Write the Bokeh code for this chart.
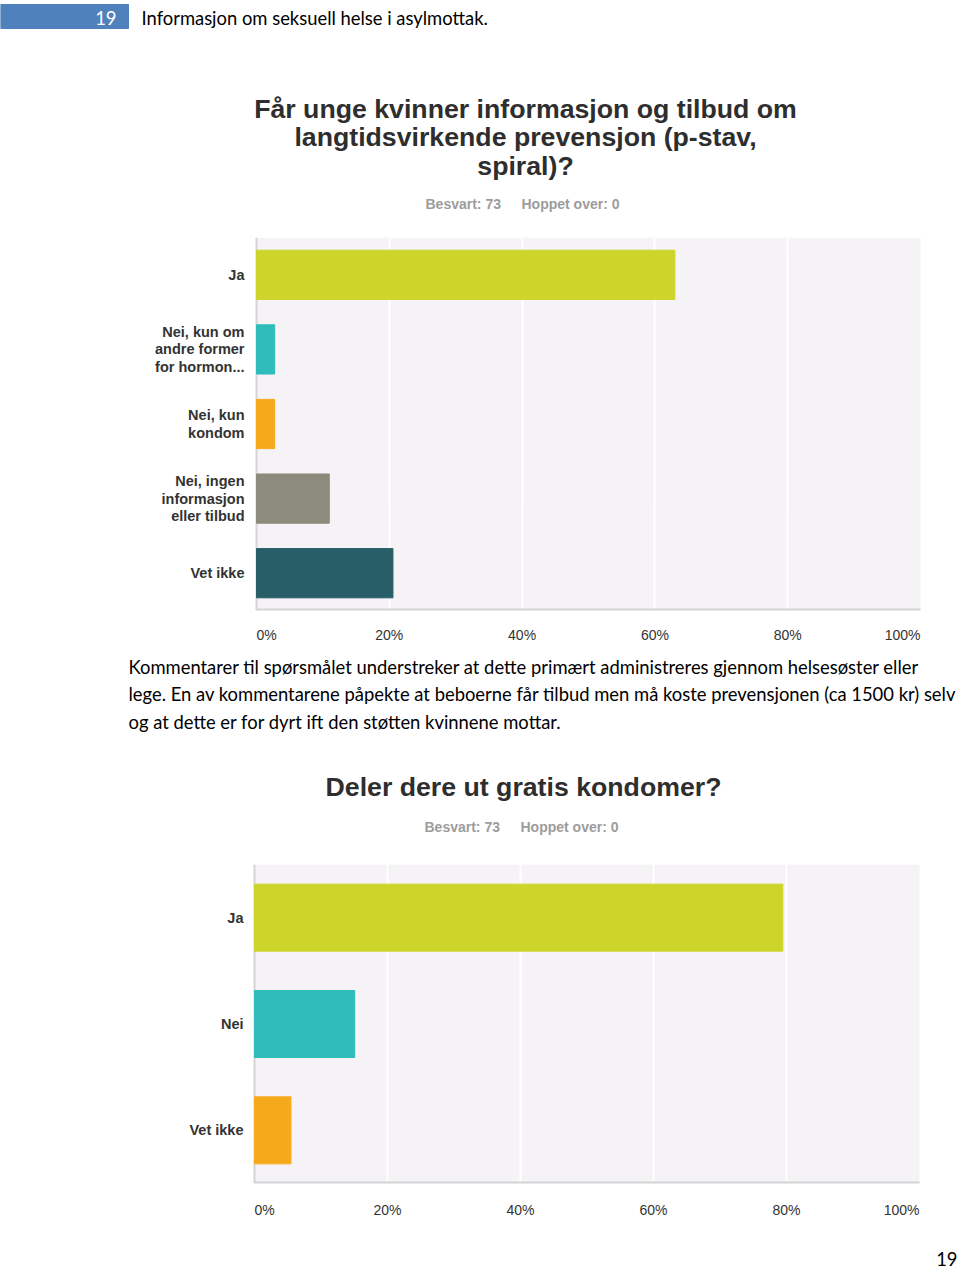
from bokeh.plotting import figure
from bokeh.layouts import column
from bokeh.models import (Range1d, FactorRange, FixedTicker, ColumnDataSource,
                          BoxAnnotation, Span, CustomJSTickFormatter)
from bokeh.core.properties import value
from bokeh.embed import file_html
from bokeh.resources import INLINE

W = 960

# ---------------- data ----------------
header_num = "19"
header_text = "Informasjon om seksuell helse i asylmottak."

title1_lines = ["Får unge kvinner informasjon og tilbud om",
                "langtidsvirkende prevensjon (p-stav,",
                "spiral)?"]
answered1 = "Besvart: 73"
skipped1 = "Hoppet over: 0"
cats1 = ["Ja",
         "Nei, kun om\nandre former\nfor hormon...",
         "Nei, kun\nkondom",
         "Nei, ingen\ninformasjon\neller tilbud",
         "Vet ikke"]
vals1 = [63.01, 2.74, 2.74, 10.96, 20.55]
colors1 = ["#cdd52b", "#2ebdba", "#f7a91c", "#8d8b7b", "#275e68"]

para_lines = ["Kommentarer til spørsmålet understreker at dette primært administreres gjennom helsesøster eller",
              "lege. En av kommentarene påpekte at beboerne får tilbud men må koste prevensjonen (ca 1500 kr) selv",
              "og at dette er for dyrt ift den støtten kvinnene mottar."]

title2 = "Deler dere ut gratis kondomer?"
answered2 = "Besvart: 73"
skipped2 = "Hoppet over: 0"
cats2 = ["Ja", "Nei", "Vet ikke"]
vals2 = [79.45, 15.07, 5.48]
colors2 = ["#cdd52b", "#2ebdba", "#f7a91c"]

tick_vals = [0, 20, 40, 60, 80, 100]
tick_labels = ["0%", "20%", "40%", "60%", "80%", "100%"]
page_num = "19"

ARIAL = "Liberation Sans"
BODY = "Lato"
TITLE_SIZE = "26.7px"
BODY_SIZE = "18.4px"
TICK_PX = 14.0
# approximate advance widths (em) of Liberation Sans regular, for tick-label alignment
ADV = {"%": 0.889}


def label_width(s, size):
    return sum(ADV.get(ch, 0.556) for ch in s) * size


def text_fig(h):
    p = figure(width=W, height=h, x_range=Range1d(0, W), y_range=Range1d(h, 0),
               output_backend="svg", toolbar_location=None, min_border=0,
               x_axis_location=None, y_axis_location=None)
    p.grid.visible = False
    p.outline_line_color = None
    p.background_fill_color = "white"
    p.border_fill_color = "white"
    return p


def txt(p, x, y, s, font, size, color, style="normal", align="left"):
    p.text(x=[x], y=[y], text=[s], text_font=value(font), text_font_size=size,
           text_font_style=style, text_color=color, text_align=align,
           text_baseline="middle")


def bar_fig(cats, vals, colors, h, frame_h, x0_px, x100_px, bar_h, label_dy, label_gap):
    ppu = (x100_px - x0_px) / 100.0
    xr = Range1d(-x0_px / ppu, (W - x0_px) / ppu)
    p = figure(width=W, height=h, x_range=xr, y_range=FactorRange(*reversed(cats)),
               output_backend="svg", toolbar_location=None,
               min_border_left=0, min_border_right=0, min_border_top=0,
               min_border_bottom=h - frame_h, y_axis_location=None)
    p.outline_line_color = None
    p.background_fill_color = "white"
    p.border_fill_color = "white"
    # plot-area background and axis lines
    p.add_layout(BoxAnnotation(left=tick_vals[0], right=tick_vals[-1], fill_color="#f5f3f6",
                               fill_alpha=1.0, line_color=None, level="image"))
    p.add_layout(Span(location=tick_vals[0], dimension="height", line_color="#d4d4d4",
                      line_width=2, level="underlay"))
    p.ygrid.grid_line_color = None
    p.xgrid.ticker = FixedTicker(ticks=tick_vals[1:-1])
    p.xgrid.grid_line_color = "white"
    p.xgrid.grid_line_width = 2

    src = ColumnDataSource(dict(cat=cats, val=vals, color=colors))
    p.hbar(y="cat", left=0, right="val", height=bar_h, color="color", source=src)
    # bottom axis line along the range start
    p.segment(x0=[tick_vals[0]], x1=[tick_vals[-1]], y0=[0], y1=[0],
              line_color="#d4d4d4", line_width=4)

    # category labels, right aligned left of the axis
    lx = -label_gap / ppu
    p.text(x=[lx] * len(cats), y=cats, text=cats, text_font=value(ARIAL),
           text_font_size="14.5px", text_font_style="bold", text_color="#333333",
           text_align="right", text_baseline="middle", text_line_height=1.07)

    # x tick labels: first left-aligned, last right-aligned, rest centred
    centers = []
    for i, (v, lab) in enumerate(zip(tick_vals, tick_labels)):
        half = label_width(lab, TICK_PX) / 2.0 / ppu
        if i == 0:
            centers.append(v + half)
        elif i == len(tick_vals) - 1:
            centers.append(v - half)
        else:
            centers.append(v)
    ax = p.xaxis[0]
    ax.ticker = FixedTicker(ticks=centers)
    ax.formatter = CustomJSTickFormatter(args=dict(labels=tick_labels), code="return labels[index]")
    ax.axis_line_color = None
    ax.major_tick_line_color = None
    ax.minor_tick_line_color = None
    ax.major_tick_out = 0
    ax.major_tick_in = 0
    ax.major_label_standoff = label_dy - int(TICK_PX / 2)
    ax.major_label_text_font = ARIAL
    ax.major_label_text_font_size = "%gpx" % TICK_PX
    ax.major_label_text_color = "#333333"
    return p


# ---------------- top: header + title 1 ----------------
top = text_fig(237)
top.quad(left=[0], right=[128], bottom=[28], top=[4], color="#4f81bd")
txt(top, 116, 17, header_num, BODY, BODY_SIZE, "white", align="right")
txt(top, 141, 17, header_text, BODY, BODY_SIZE, "black")
for i, line in enumerate(title1_lines):
    txt(top, 525, 108 + i * 28.5, line, ARIAL, TITLE_SIZE, "#2e2e2e", style="bold", align="center")
txt(top, 425, 203, answered1, ARIAL, "14px", "#9c9c9c", style="bold")
txt(top, 521, 203, skipped1, ARIAL, "14px", "#9c9c9c", style="bold")

# ---------------- chart 1 ----------------
c1 = bar_fig(cats1, vals1, colors1, h=413, frame_h=373, x0_px=256, x100_px=920,
             bar_h=0.66, label_dy=23, label_gap=12)

# ---------------- paragraph + title 2 ----------------
mid = text_fig(214)
for i, line in enumerate(para_lines):
    txt(mid, 128, 16 + i * 27.5, line, BODY, BODY_SIZE, "black")
txt(mid, 523, 136, title2, ARIAL, TITLE_SIZE, "#2e2e2e", style="bold", align="center")
txt(mid, 424, 176, answered2, ARIAL, "14px", "#9c9c9c", style="bold")
txt(mid, 520, 176, skipped2, ARIAL, "14px", "#9c9c9c", style="bold")

# ---------------- chart 2 ----------------
c2 = bar_fig(cats2, vals2, colors2, h=361, frame_h=319, x0_px=254, x100_px=919,
             bar_h=0.63, label_dy=25, label_gap=11)

# ---------------- footer ----------------
foot = text_fig(46)
txt(foot, 957, 33, page_num, BODY, BODY_SIZE, "black", align="right")

layout = column(top, c1, mid, c2, foot, spacing=0)
open("out.html", "w").write(file_html(layout, INLINE))
